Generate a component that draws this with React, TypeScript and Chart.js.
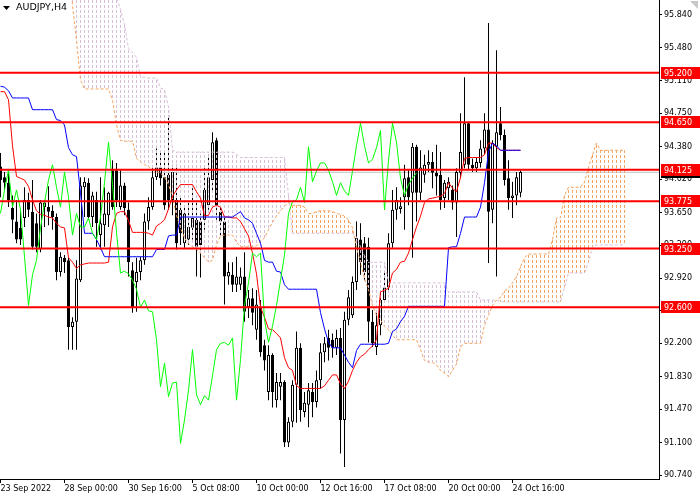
import { useEffect, useRef } from 'react';
import { Chart, registerables } from 'chart.js';

Chart.register(...registerables);

// AUDJPY H4 candles, one entry per bar (bar 0 = 23 Sep 2022)
const opens = [
  94.16, 94.04, 93.98, 93.70, 93.55, 93.48, 93.59, 93.79, 93.66, 93.53,
  93.24, 93.71, 93.71, 93.67, 93.60, 92.99, 93.15, 93.12, 92.38, 92.44,
  92.90, 93.93, 93.98, 93.60, 93.79, 93.40, 93.51, 93.62, 94.12, 94.12,
  93.71, 93.95, 93.68, 93.01, 92.88, 92.99, 93.12, 93.55, 93.71, 94.04,
  94.15, 94.04, 94.07, 93.79, 93.79, 93.68, 93.31, 93.35, 93.48, 93.57,
  93.55, 93.57, 93.73, 94.01, 94.45, 93.66, 93.55, 92.94, 92.96, 92.85,
  92.85, 92.94, 92.60, 92.70, 92.35, 92.60, 92.18, 91.66, 92.07, 91.57,
  91.72, 91.77, 91.10, 91.33, 91.74, 92.15, 91.44, 91.52, 91.66, 91.55,
  91.79, 92.10, 92.26, 92.24, 92.15, 92.26, 91.35, 92.46, 92.51, 92.88,
  93.35, 93.31, 93.27, 92.44, 92.16, 92.40, 92.68, 92.82, 93.31, 93.68,
  93.69, 93.82, 94.04, 93.87, 94.38, 93.87, 94.07, 94.18, 94.21, 94.09,
  94.07, 93.81, 93.92, 93.90, 93.76, 94.09, 94.18, 94.64, 94.18, 94.14,
  94.20, 94.36, 94.57, 93.68, 94.38, 94.64, 94.51, 94.03, 93.81, 93.84,
  93.87,
];
const highs = [
  94.31, 94.10, 94.09, 93.84, 93.79, 93.68, 93.93, 93.87, 94.01, 93.64,
  93.79, 93.79, 93.94, 93.73, 93.64, 93.21, 93.18, 93.15, 92.49, 93.12,
  94.04, 94.04, 94.03, 93.88, 93.88, 94.04, 93.93, 93.88, 94.23, 94.20,
  94.12, 93.98, 93.76, 93.10, 93.15, 93.16, 93.64, 93.82, 94.14, 94.36,
  94.34, 94.31, 94.70, 94.18, 94.18, 93.82, 93.73, 93.79, 93.92, 93.79,
  93.64, 94.14, 94.29, 94.54, 94.48, 93.73, 93.62, 93.10, 93.10, 93.16,
  93.04, 93.21, 92.79, 92.81, 92.79, 92.68, 92.24, 92.18, 92.09, 91.87,
  91.87, 91.79, 91.38, 91.79, 92.33, 92.20, 91.66, 91.76, 91.76, 91.90,
  92.20, 92.27, 92.35, 92.31, 92.35, 92.37, 92.55, 92.79, 92.94, 93.55,
  93.53, 93.38, 93.37, 92.57, 92.57, 92.79, 93.01, 93.42, 93.90, 93.93,
  93.82, 94.18, 94.12, 94.42, 94.40, 94.34, 94.29, 94.34, 94.32, 94.40,
  94.32, 94.01, 94.04, 93.95, 94.14, 94.75, 95.15, 94.65, 94.25, 94.26,
  94.45, 94.75, 95.75, 94.45, 95.45, 94.82, 94.57, 94.23, 93.99, 94.10,
  94.12,
];
const lows = [
  93.82, 93.90, 93.71, 93.42, 93.31, 93.29, 93.49, 93.60, 93.24, 93.21,
  93.21, 93.49, 93.51, 93.46, 92.90, 92.94, 92.98, 92.13, 92.13, 92.13,
  92.88, 93.60, 93.57, 93.49, 93.27, 93.24, 93.27, 93.49, 93.68, 93.71,
  93.68, 93.62, 92.94, 92.54, 92.55, 92.90, 93.07, 93.46, 93.68, 94.01,
  93.95, 93.68, 93.68, 93.62, 93.24, 93.29, 93.26, 93.29, 93.35, 92.94,
  92.93, 93.46, 93.68, 93.90, 93.57, 93.40, 92.63, 92.85, 92.77, 92.77,
  92.79, 92.44, 92.48, 92.40, 92.24, 92.05, 91.90, 91.57, 91.49, 91.49,
  91.57, 91.05, 91.05, 91.27, 91.32, 91.33, 91.38, 91.27, 91.38, 91.49,
  91.70, 91.99, 92.01, 92.04, 92.07, 90.98, 90.83, 92.40, 92.48, 92.79,
  92.96, 92.90, 92.21, 92.16, 92.07, 92.29, 92.65, 92.79, 93.26, 93.57,
  93.64, 93.46, 93.73, 93.15, 93.55, 93.79, 93.98, 94.10, 93.92, 93.84,
  93.68, 93.70, 93.79, 93.68, 93.38, 94.03, 94.14, 94.12, 94.10, 94.10,
  94.15, 94.29, 93.09, 93.53, 92.94, 94.45, 93.95, 93.68, 93.59, 93.73,
  93.82,
];
const closes = [
  94.01, 93.98, 93.79, 93.57, 93.35, 93.35, 93.79, 93.68, 93.27, 93.27,
  93.76, 93.76, 93.66, 93.60, 92.99, 93.16, 93.10, 92.38, 92.44, 92.92,
  93.95, 93.99, 93.60, 93.84, 93.53, 93.53, 93.64, 93.87, 93.71, 93.79,
  93.95, 93.70, 93.10, 92.59, 92.99, 93.12, 93.55, 93.71, 94.04, 94.15,
  94.03, 93.73, 93.79, 94.10, 93.31, 93.42, 93.64, 93.49, 93.59, 93.27,
  93.29, 93.90, 94.04, 94.43, 93.73, 93.55, 92.94, 92.99, 92.85, 92.94,
  92.94, 92.55, 92.70, 92.54, 92.63, 92.10, 92.01, 92.07, 91.66, 91.77,
  91.77, 91.10, 91.33, 91.74, 92.15, 91.46, 91.54, 91.68, 91.55, 91.79,
  92.10, 92.20, 92.15, 92.15, 92.26, 91.35, 92.46, 92.71, 92.88, 93.37,
  93.10, 92.99, 92.44, 92.20, 92.40, 92.68, 92.82, 93.31, 93.68, 93.79,
  93.72, 94.03, 93.82, 94.38, 93.87, 94.15, 94.18, 94.21, 94.09, 94.05,
  93.79, 93.98, 93.99, 93.76, 94.10, 94.32, 94.64, 94.18, 94.14, 94.21,
  94.36, 94.57, 93.66, 94.42, 94.54, 94.51, 94.01, 93.81, 93.84, 94.04,
  94.10,
];

// Ichimoku lines
const tenkan = [
  94.99, 94.99, 94.90, 94.39, 94.05, 94.03, 94.01, 93.94, 93.79, 93.67,
  93.63, 93.62, 93.60, 93.59, 93.53, 93.49, 93.48, 93.15, 93.10, 93.03,
  93.07, 93.08, 93.09, 93.09, 93.09, 93.09, 93.09, 93.10, 93.49, 93.64,
  93.66, 93.66, 93.56, 93.43, 93.43, 93.43, 93.43, 93.42, 93.40, 93.50,
  93.53, 93.57, 93.69, 93.83, 93.90, 93.96, 93.96, 93.96, 93.96, 93.88,
  93.81, 93.61, 93.62, 93.71, 93.73, 93.71, 93.60, 93.60, 93.59, 93.59,
  93.55, 93.47, 93.39, 93.20, 92.97, 92.60, 92.49, 92.36, 92.35, 92.31,
  92.26, 92.04, 91.93, 91.90, 91.73, 91.70, 91.70, 91.70, 91.70, 91.70,
  91.70, 91.73, 91.79, 91.85, 91.85, 91.75, 91.70, 91.78, 91.90, 91.99,
  92.05, 92.08, 92.13, 92.17, 92.24, 92.77, 92.79, 92.81, 92.98, 93.02,
  93.10, 93.11, 93.20, 93.35, 93.49, 93.61, 93.76, 93.80, 93.81, 93.82,
  93.83, 93.86, 93.98, 93.92, 93.88, 94.04, 94.25, 94.26, 94.26, 94.26,
  94.26, 94.29, 94.42, 94.42, 94.37, 94.34, 94.34, 94.34, 94.34, 94.34,
  94.34,
];
const kijun = [
  95.05, 95.04, 95.00, 94.92, 94.92, 94.92, 94.92, 94.92, 94.79, 94.79,
  94.79, 94.79, 94.79, 94.79, 94.68, 94.67, 94.62, 94.37, 94.29, 94.27,
  93.87, 93.42, 93.42, 93.42, 93.35, 93.26, 93.16, 93.16, 93.16, 93.16,
  93.16, 93.16, 93.16, 93.16, 93.16, 93.16, 93.16, 93.16, 93.16, 93.24,
  93.24, 93.24, 93.39, 93.40, 93.40, 93.60, 93.60, 93.60, 93.60, 93.60,
  93.60, 93.60, 93.60, 93.60, 93.60, 93.60, 93.60, 93.60, 93.60, 93.63,
  93.66, 93.59, 93.57, 93.53, 93.42, 93.31, 93.12, 93.10, 93.10, 93.00,
  92.99, 92.85, 92.80, 92.80, 92.80, 92.80, 92.80, 92.80, 92.80, 92.80,
  92.54, 92.36, 92.21, 92.15, 92.15, 92.15, 92.07, 91.99, 91.93, 92.12,
  92.19, 92.19, 92.19, 92.19, 92.19, 92.19, 92.19, 92.20, 92.33, 92.36,
  92.44, 92.50, 92.61, 92.61, 92.61, 92.61, 92.61, 92.61, 92.61, 92.61,
  92.61, 92.61, 93.26, 93.27, 93.27, 93.42, 93.60, 93.60, 93.60, 93.60,
  93.71, 93.98, 94.32, 94.42, 94.39, 94.34, 94.34, 94.34, 94.34, 94.34,
  94.34,
];
const chikou = [
  93.64, 93.90, 94.12, 93.71, 93.90, 93.68, 93.16, 92.62, 92.96, 93.12,
  93.48, 93.76, 94.01, 94.18, 93.93, 93.71, 94.10, 93.82, 93.40, 93.64,
  93.49, 93.49, 93.59, 93.42, 93.35, 93.60, 93.98, 94.43, 93.96, 93.43,
  92.98, 93.00, 92.97, 92.90, 92.80, 92.60, 92.68, 92.56, 92.55, 92.24,
  91.72, 91.98, 91.61, 91.76, 91.77, 91.09, 91.35, 91.68, 92.13, 91.63,
  91.52, 91.62, 91.57, 91.84, 92.13, 92.20, 92.21, 92.18, 92.26, 91.57,
  92.02, 92.62, 92.87, 93.20, 93.16, 93.20, 92.46, 92.21, 92.39, 92.62,
  92.90, 93.18, 93.64, 93.77, 93.79, 93.93, 93.76, 94.38, 93.99, 94.11,
  94.20, 94.20, 94.12, 93.99, 93.84, 93.98, 93.89, 93.84, 94.11, 94.39,
  94.64, 94.39, 94.20, 94.24, 94.37, 94.56, 93.68, 94.23, 94.64, 94.43,
  94.03, 93.84, 93.96, 94.03, 94.09,
];
// Senkou spans run 26 bars past the last candle; early values sit above the window
const spanA = [
  96.40, 96.40, 96.40, 96.40, 96.40, 96.40, 96.40, 96.40, 96.40, 96.40,
  96.40, 96.40, 96.40, 96.40, 96.40, 96.40, 96.40, 96.40, 95.95, 95.56,
  95.12, 95.02, 95.02, 95.02, 95.02, 95.02, 95.02, 95.02, 94.90, 94.62,
  94.45, 94.44, 94.44, 94.44, 94.25, 94.21, 94.18, 94.16, 94.12, 94.10,
  94.09, 94.04, 93.96, 93.82, 93.62, 93.48, 93.37, 93.30, 93.27, 93.24,
  93.20, 93.15, 93.10, 93.12, 93.29, 93.39, 93.40, 93.40, 93.40, 93.32,
  93.27, 93.27, 93.27, 93.27, 93.28, 93.33, 93.37, 93.46, 93.54, 93.61,
  93.67, 93.72, 93.76, 93.73, 93.73, 93.73, 93.71, 93.64, 93.64, 93.66,
  93.67, 93.67, 93.67, 93.66, 93.64, 93.63, 93.61, 93.57, 93.48, 93.26,
  93.10, 92.92, 92.79, 92.62, 92.51, 92.46, 92.39, 92.35, 92.29, 92.24,
  92.24, 92.24, 92.24, 92.24, 92.24, 92.13, 92.01, 91.99, 91.99, 91.96,
  91.90, 91.87, 91.83, 91.90, 91.97, 92.16, 92.20, 92.20, 92.20, 92.20,
  92.20, 92.40, 92.51, 92.62, 92.68, 92.71, 92.78, 92.81, 92.87, 92.94,
  93.05, 93.15, 93.19, 93.19, 93.19, 93.19, 93.19, 93.19, 93.35, 93.59,
  93.59, 93.84, 93.93, 93.93, 93.93, 93.93, 93.99, 94.15, 94.29, 94.42,
  94.34, 94.34, 94.34, 94.34, 94.34, 94.34, 94.34,
];
const spanB = [
  96.70, 96.70, 96.70, 96.70, 96.70, 96.70, 96.70, 96.70, 96.70, 96.70,
  96.70, 96.70, 96.70, 96.70, 96.70, 96.70, 96.70, 96.70, 96.70, 96.70,
  96.70, 96.70, 96.70, 96.70, 96.70, 96.70, 96.70, 96.70, 96.30, 96.04,
  95.90, 95.73, 95.47, 95.42, 95.37, 95.15, 95.15, 95.14, 95.14, 95.14,
  95.03, 95.01, 94.82, 94.34, 94.32, 94.32, 94.32, 94.32, 94.32, 94.32,
  94.32, 94.32, 94.32, 94.32, 94.32, 94.32, 94.32, 94.32, 94.32, 94.30,
  94.26, 94.26, 94.26, 94.26, 94.26, 94.26, 94.26, 94.26, 94.26, 94.26,
  94.26, 94.26, 93.84, 93.42, 93.42, 93.42, 93.42, 93.42, 93.42, 93.42,
  93.42, 93.42, 93.42, 93.42, 93.42, 93.42, 93.42, 93.42, 93.42, 93.38,
  93.27, 93.17, 93.10, 93.10, 93.10, 93.10, 93.10, 92.88, 92.87, 92.87,
  92.87, 92.87, 92.87, 92.87, 92.87, 92.87, 92.87, 92.87, 92.87, 92.87,
  92.87, 92.87, 92.77, 92.77, 92.77, 92.77, 92.77, 92.77, 92.77, 92.77,
  92.68, 92.68, 92.68, 92.68, 92.68, 92.66, 92.66, 92.66, 92.66, 92.66,
  92.66, 92.66, 92.66, 92.66, 92.66, 92.66, 92.66, 92.66, 92.66, 92.66,
  92.66, 92.82, 92.98, 92.98, 92.98, 92.98, 92.98, 93.10, 93.27, 93.29,
  93.29, 93.29, 93.29, 93.29, 93.29, 93.29, 93.29,
];

const levels = [95.2, 94.65, 94.125, 93.775, 93.25, 92.6];
const bidPrice = 94.096;
const priceTicks = [
  95.84, 95.48, 95.11, 94.75, 94.38, 94.02, 93.65, 93.29, 92.92, 92.56,
  92.2, 91.83, 91.47, 91.1, 90.74,
];
const timeTickBars = [0, 16, 32, 48, 64, 80, 96, 112, 128];
const timeTickLabels = [
  '23 Sep 2022', '28 Sep 00:00', '30 Sep 16:00', '5 Oct 08:00', '10 Oct 00:00',
  '12 Oct 16:00', '17 Oct 08:00', '20 Oct 00:00', '24 Oct 16:00',
];

const Y_MIN = 90.696;
const Y_MAX = 96.006;
const X_MIN = -0.125;
const X_MAX = 164.625;
const FONT = { family: 'DejaVu Sans', size: 8 };

const overlayPlugin = {
  id: 'mtOverlay',
  afterDraw(chart: Chart) {
    const { ctx } = chart;
    const y = chart.scales.y;
    ctx.save();
    ctx.font = `${FONT.size}px "${FONT.family}"`;
    ctx.textBaseline = 'middle';
    ctx.textAlign = 'left';

    const priceBox = (v: number, bg: string) => {
      const py = Math.round(y.getPixelForValue(v));
      ctx.fillStyle = bg;
      ctx.fillRect(661, py - 6, 39, 12);
      ctx.fillStyle = '#ffffff';
      ctx.fillText(v.toFixed(3), 664, py + 0.5);
    };
    priceBox(bidPrice, '#000000');
    levels.forEach((v) => priceBox(v, '#ff0000'));

    // symbol caption, top left
    ctx.fillStyle = '#000000';
    ctx.beginPath();
    ctx.moveTo(3, 6);
    ctx.lineTo(10, 6);
    ctx.lineTo(6.5, 10);
    ctx.closePath();
    ctx.fill();
    ctx.font = '9.5px "DejaVu Sans"';
    ctx.fillText('AUDJPY,H4', 16, 8);

    // chart shift marker, top right
    ctx.fillStyle = '#c8c8c8';
    ctx.beginPath();
    ctx.moveTo(690, 1);
    ctx.lineTo(698, 1);
    ctx.lineTo(698, 9);
    ctx.closePath();
    ctx.fill();
    ctx.restore();
  },
};

export default function App() {
  const canvasRef = useRef<HTMLCanvasElement>(null);

  useEffect(() => {
    const canvas = canvasRef.current;
    if (!canvas) return;
    const ctx = canvas.getContext('2d')!;

    const hatch = (color: string) => {
      const tile = document.createElement('canvas');
      tile.width = 1;
      tile.height = 5;
      const t = tile.getContext('2d')!;
      t.fillStyle = color;
      t.fillRect(0, 0, 1, 3);
      return ctx.createPattern(tile, 'repeat')!;
    };
    const bullHatch = hatch('#F4A460');
    const bearHatch = hatch('#D8BFD8');

    const pts = (arr: number[]) => arr.map((v, i) => ({ x: i, y: v }));
    const flat = (v: number) => [{ x: X_MIN - 1, y: v }, { x: X_MAX + 1, y: v }];
    const line = (data: any[], color: string, order: number, width = 1, dash: number[] = []) => ({
      type: 'line' as const,
      data,
      borderColor: color,
      borderWidth: width,
      borderDash: dash,
      pointRadius: 0,
      tension: 0,
      fill: false,
      order,
    });

    const chart = new Chart(canvas, {
      type: 'bar',
      data: {
        datasets: [
          line(flat(bidPrice), '#c0c0c0', 100),
          {
            type: 'bar',
            data: highs.map((h, i) => ({ x: i, y: [lows[i], h] })),
            backgroundColor: '#000000',
            borderWidth: 0,
            barThickness: 1,
            grouped: false,
            inflateAmount: 0,
            order: 90,
          },
          {
            type: 'bar',
            data: opens.map((o, i) => ({ x: i, y: [o, closes[i]] })),
            backgroundColor: opens.map((o, i) => (closes[i] >= o ? '#ffffff' : '#000000')),
            borderColor: '#000000',
            borderWidth: 1,
            borderSkipped: false,
            barThickness: 3,
            grouped: false,
            inflateAmount: 0,
            order: 80,
          },
          {
            type: 'bar',
            data: spanA.map((a, i) => ({ x: i, y: [a, spanB[i]] })),
            backgroundColor: spanA.map((a, i) => (a >= spanB[i] ? bullHatch : bearHatch)),
            borderWidth: 0,
            barThickness: 1,
            grouped: false,
            inflateAmount: 0,
            order: 70,
          },
          line(pts(spanA), '#F4A460', 60, 1, [3, 2]),
          line(pts(spanB), '#D8BFD8', 55, 1, [3, 2]),
          line(pts(tenkan), '#ff0000', 40),
          line(pts(kijun), '#0000ff', 30),
          line(pts(chikou), '#00ff00', 20),
          ...levels.map((v) => line(flat(v), '#ff0000', 0, 2)),
        ] as any,
      },
      options: {
        animation: false,
        responsive: true,
        maintainAspectRatio: false,
        devicePixelRatio: 1,
        events: [],
        layout: { padding: 0 },
        plugins: { legend: { display: false }, tooltip: { enabled: false } },
        scales: {
          x: {
            type: 'linear',
            min: X_MIN,
            max: X_MAX,
            bounds: 'data',
            offset: false,
            afterBuildTicks: (s: any) => {
              s.ticks = timeTickBars.map((v) => ({ value: v }));
            },
            afterFit: (s: any) => {
              s.height = 21;
              s.paddingLeft = 0;
              s.paddingRight = 0;
            },
            ticks: {
              autoSkip: false,
              maxRotation: 0,
              minRotation: 0,
              align: 'start',
              padding: 1,
              color: '#000000',
              font: FONT,
              callback: (_v: any, i: number) => timeTickLabels[i],
            },
            grid: { drawOnChartArea: false, tickLength: 4, color: '#000000', offset: false },
            border: { display: true, color: '#000000', width: 1 },
          },
          y: {
            type: 'linear',
            position: 'right',
            min: Y_MIN,
            max: Y_MAX,
            bounds: 'data',
            afterBuildTicks: (s: any) => {
              s.ticks = priceTicks.map((v) => ({ value: v }));
            },
            afterFit: (s: any) => {
              s.width = 41;
              s.paddingTop = 0;
              s.paddingBottom = 0;
            },
            ticks: {
              autoSkip: false,
              padding: 2,
              color: '#000000',
              font: FONT,
              callback: (v: any) => Number(v).toFixed(3),
            },
            grid: { drawOnChartArea: false, tickLength: 3, color: '#000000' },
            border: { display: true, color: '#000000', width: 1 },
          },
        },
      } as any,
      plugins: [overlayPlugin],
    });

    return () => chart.destroy();
  }, []);

  return (
    <div style={{ position: 'fixed', left: 0, top: 0, width: 700, height: 500, background: '#ffffff' }}>
      <canvas ref={canvasRef} />
    </div>
  );
}
